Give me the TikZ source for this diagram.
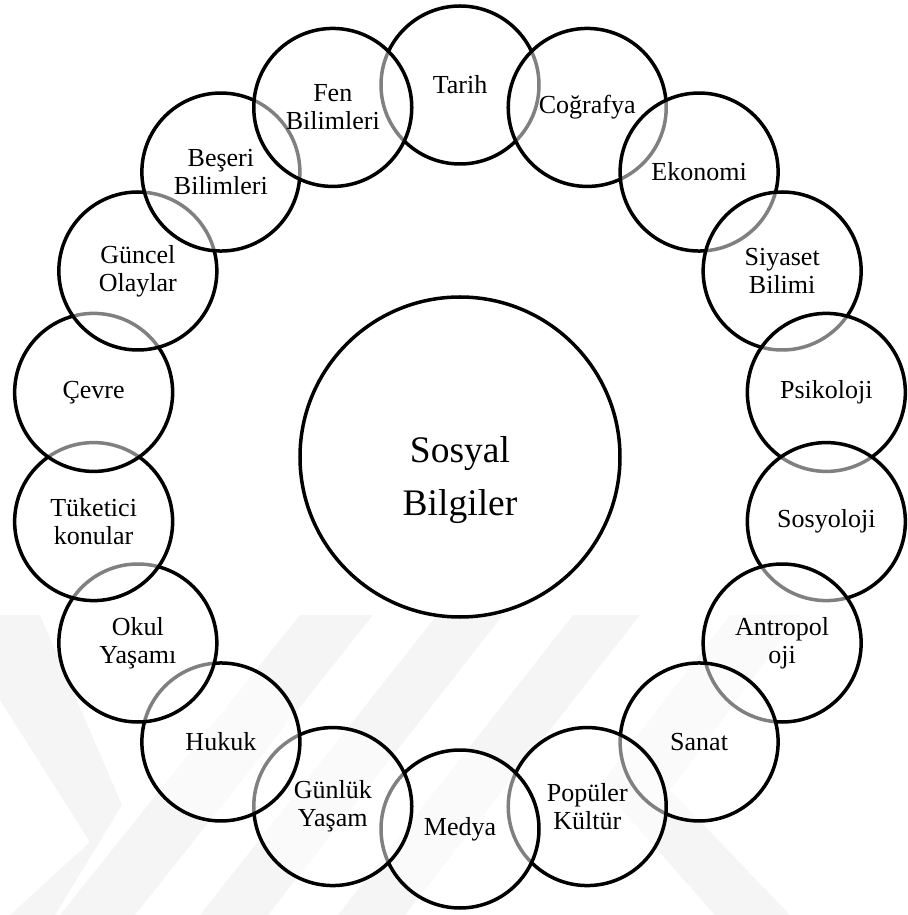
\documentclass[tikz,border=0pt]{standalone}
\usepackage{fontspec}
\setmainfont{Liberation Serif}

\begin{document}
\begin{tikzpicture}[x=1pt,y=1pt]
	\tikzstyle{topic} = [draw, circle, line width=3.5pt, minimum size=158pt, inner sep=0pt, fill=white, fill opacity=0.5, text opacity=1, align=center, font=\fontsize{26}{28}\selectfont]
	\tikzstyle{hub} = [draw, circle, line width=3.5pt, minimum size=320pt, inner sep=0pt, align=center, font=\fontsize{37.5}{53}\selectfont]
	\tikzstyle{wmark} = [fill=black!4, draw=none]

	\useasboundingbox (-460,-458) rectangle (447,457);

	% faint watermark behind the ring
	\begin{scope}[shift={(-460,457)}, yscale=-1]
		\fill [wmark] (0,615) -- (40,615) -- (122,805) -- (55,915) -- (10,915) -- (90,842) -- (0,700) -- cycle;
		\fill [wmark] (300,615) -- (373,615) -- (135,915) -- (60,915) -- cycle;
		\fill [wmark] (437,615) -- (503,615) -- (268,915) -- (200,915) -- cycle;
		\fill [wmark] (573,615) -- (640,615) -- (405,915) -- (338,915) -- cycle;
		\fill [wmark] (600,785) -- (730,615) -- (800,615) -- (670,790) -- (790,915) -- (715,915) -- cycle;
	\end{scope}

	\node [hub] (sosyal) at (0,0) {\rule{0pt}{72pt}Sosyal\\Bilgiler};

	\node [topic] (tarih) at (90:372) {Tarih};
	\node [topic] (cografya) at (70:372) {Coğrafya};
	\node [topic] (ekonomi) at (50:372) {Ekonomi};
	\node [topic] (siyaset) at (30:372) {Siyaset\\Bilimi};
	\node [topic] (psikoloji) at (10:372) {Psikoloji};
	\node [topic] (sosyoloji) at (-10:372) {Sosyoloji};
	\node [topic] (antropoloji) at (-30:372) {Antropol\\oji};
	\node [topic] (sanat) at (-50:372) {Sanat};
	\node [topic] (populer) at (-70:372) {Popüler\\Kültür};
	\node [topic] (medya) at (-90:372) {Medya};
	\node [topic] (gunluk) at (-110:372) {Günlük\\Yaşam};
	\node [topic] (hukuk) at (-130:372) {Hukuk};
	\node [topic] (okul) at (-150:372) {Okul\\Yaşamı};
	\node [topic] (tuketici) at (-170:372) {Tüketici\\konular};
	\node [topic] (cevre) at (170:372) {Çevre};
	\node [topic] (guncel) at (150:372) {Güncel\\Olaylar};
	\node [topic] (beseri) at (130:372) {Beşeri\\Bilimleri};
	\node [topic] (fen) at (110:372) {Fen\\Bilimleri};

\end{tikzpicture}
\end{document}
